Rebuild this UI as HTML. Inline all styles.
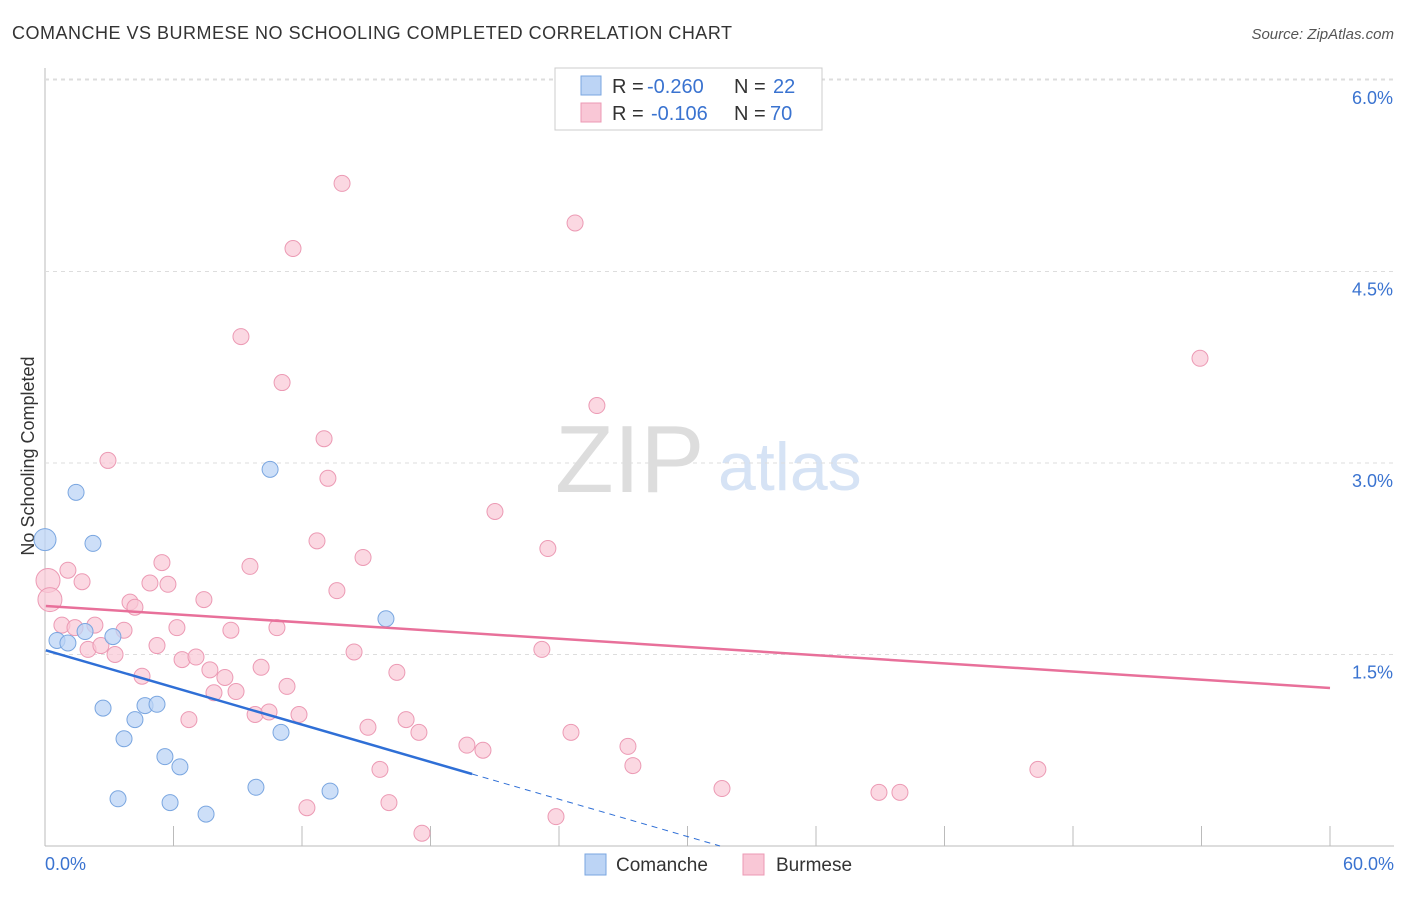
<!DOCTYPE html>
<html><head><meta charset="utf-8"><style>
body{margin:0;background:#fff;font-family:"Liberation Sans",sans-serif;}
svg text{font-family:"Liberation Sans",sans-serif;}
</style></head><body>
<svg id="c" width="1406" height="892" xmlns="http://www.w3.org/2000/svg">
<text x="12" y="39" font-size="18" fill="#333" textLength="720" lengthAdjust="spacing">COMANCHE VS BURMESE NO SCHOOLING COMPLETED CORRELATION CHART</text>
<text x="1394" y="39" font-size="15" fill="#555" text-anchor="end" font-style="italic">Source: ZipAtlas.com</text>
<text x="34" y="456" font-size="18" fill="#333" text-anchor="middle" transform="rotate(-90 34 456)">No Schooling Completed</text>
<text x="555" y="492" font-size="96" fill="#ddd" font-family="Liberation Serif">ZIP</text>
<text x="718" y="490" font-size="68" fill="#d6e3f5">atlas</text>
<g id="grid"></g><g id="pts"></g><g id="lines"></g>
<g>
<rect x="555" y="68" width="267" height="62" fill="#fff" stroke="#ccc"/>
<rect x="581" y="76" width="20" height="19" fill="#bcd4f5" stroke="#7aa6e0"/>
<rect x="581" y="103" width="20" height="19" fill="#f9c7d6" stroke="#ec9ab4"/>
<text x="612" y="93" font-size="20" fill="#333">R =</text>
<text x="647" y="93" font-size="20" fill="#3a73d0">-0.260</text>
<text x="734" y="93" font-size="20" fill="#333">N =</text>
<text x="773" y="93" font-size="20" fill="#3a73d0">22</text>
<text x="612" y="120" font-size="20" fill="#333">R =</text>
<text x="651" y="120" font-size="20" fill="#3a73d0">-0.106</text>
<text x="734" y="120" font-size="20" fill="#333">N =</text>
<text x="770" y="120" font-size="20" fill="#3a73d0">70</text>
</g>
<g>
<rect x="585" y="854" width="21" height="21" fill="#bcd4f5" stroke="#7aa6e0"/>
<text x="616" y="871" font-size="19" fill="#333">Comanche</text>
<rect x="743" y="854" width="21" height="21" fill="#f9c7d6" stroke="#ec9ab4"/>
<text x="776" y="871" font-size="19" fill="#333">Burmese</text>
</g>
</svg>
<script>
const yTicks=[1.5,3.0,4.5,6.0];
const yTickLabels=["1.5%","3.0%","4.5%","6.0%"];
const xTickLabels=["0.0%","60.0%"];
const comancheX=[0,0.56,1.07,1.45,1.87,2.24,2.71,3.17,3.41,3.69,4.20,4.67,5.23,5.60,5.84,6.30,7.52,9.85,10.51,11.02,13.31,15.92];
const comancheY=[2.40,1.61,1.59,2.77,1.68,2.37,1.08,1.64,0.37,0.84,0.99,1.10,1.11,0.70,0.34,0.62,0.25,0.46,2.95,0.89,0.43,1.78];
const burmeseX=[0.14,0.23,0.79,1.07,1.40,1.73,2.01,2.33,2.61,2.94,3.27,3.69,3.97,4.20,4.53,4.90,5.23,5.46,5.74,6.16,6.40,6.72,7.05,7.42,7.70,7.89,8.40,8.68,8.92,9.15,9.57,9.81,10.09,10.46,10.83,11.07,11.30,11.58,11.86,12.23,12.70,13.03,13.21,13.63,13.87,14.43,14.85,15.08,15.64,16.06,16.43,16.86,17.46,17.60,19.70,20.45,21.01,23.20,23.48,23.86,24.56,24.75,25.77,27.22,27.45,31.61,38.94,39.92,46.36,53.93];
const burmeseY=[2.08,1.93,1.73,2.16,1.71,2.07,1.54,1.73,1.57,3.02,1.50,1.69,1.91,1.87,1.33,2.06,1.57,2.22,2.05,1.71,1.46,0.99,1.48,1.93,1.38,1.20,1.32,1.69,1.21,3.99,2.19,1.03,1.40,1.05,1.71,3.63,1.25,4.68,1.03,0.30,2.39,3.19,2.88,2.00,5.19,1.52,2.26,0.93,0.60,0.34,1.36,0.99,0.89,0.10,0.79,0.75,2.62,1.54,2.33,0.23,0.89,4.88,3.45,0.78,0.63,0.45,0.42,0.42,0.60,3.82];
const trendComanche=[1.535,-0.0487];
const trendBurmese=[1.88,-0.0107];
const NS="http://www.w3.org/2000/svg";
const X=v=>45+v/6*128.5, Y=v=>846-v*127.67;
function mk(t,a,p){const e=document.createElementNS(NS,t);for(const k in a)e.setAttribute(k,a[k]);p.appendChild(e);return e;}
const g=document.getElementById('grid');
mk('line',{x1:45,y1:68,x2:45,y2:846,stroke:'#bbb'},g);
mk('line',{x1:45,y1:846,x2:1394,y2:846,stroke:'#bbb'},g);
mk('line',{x1:45,y1:79,x2:1394,y2:79,stroke:'#ddd','stroke-dasharray':'4,4'},g);
yTicks.forEach((t,i)=>{
 const l=mk('line',{x1:45,y1:Y(t),x2:1394,y2:Y(t),stroke:'#ddd','stroke-dasharray':'4,4'},g);
 
 
 const tx=mk('text',{x:1393,y:Y(t)+24,'font-size':18,fill:'#3a73d0','text-anchor':'end'},g);
 tx.textContent=yTickLabels[i];
 
 
});
for(let i=1;i<=10;i++){const l=mk('line',{x1:X(i*6),y1:826,x2:X(i*6),y2:846,stroke:'#bbb'},g);
 
 }
[[45,'start',0],[1394,'end',1]].forEach(([x,a,i])=>{const t=mk('text',{x:x,y:870,'font-size':18,fill:'#3a73d0','text-anchor':a},g);t.textContent=xTickLabels[i];
 
 });
const p=document.getElementById('pts');
burmeseX.forEach((x,i)=>{const c=mk('circle',{cx:X(x),cy:Y(burmeseY[i]),r:i<2?12:8,fill:'#f9c7d6','fill-opacity':0.7,stroke:'#ec9ab4'},p);
 
 });
comancheX.forEach((x,i)=>{const c=mk('circle',{cx:X(x),cy:Y(comancheY[i]),r:i==0?11:8,fill:'#bcd4f5','fill-opacity':0.75,stroke:'#7aa6e0'},p);
 
 });
const L=document.getElementById('lines');
const f=(tr,x)=>tr[0]+tr[1]*x;
let l=mk('line',{x1:X(0.04),y1:Y(f(trendComanche,0.04)),x2:X(19.94),y2:Y(f(trendComanche,19.94)),stroke:'#2f6fd6','stroke-width':2.5},L);


const xe=trendComanche[0]/-trendComanche[1];
l=mk('line',{x1:X(19.94),y1:Y(f(trendComanche,19.94)),x2:X(xe),y2:Y(0),stroke:'#2f6fd6','stroke-width':1,'stroke-dasharray':'6,5'},L);


l=mk('line',{x1:X(0.04),y1:Y(f(trendBurmese,0.04)),x2:X(60),y2:Y(f(trendBurmese,60)),stroke:'#e8709a','stroke-width':2.5},L);


</script>
</body></html>
